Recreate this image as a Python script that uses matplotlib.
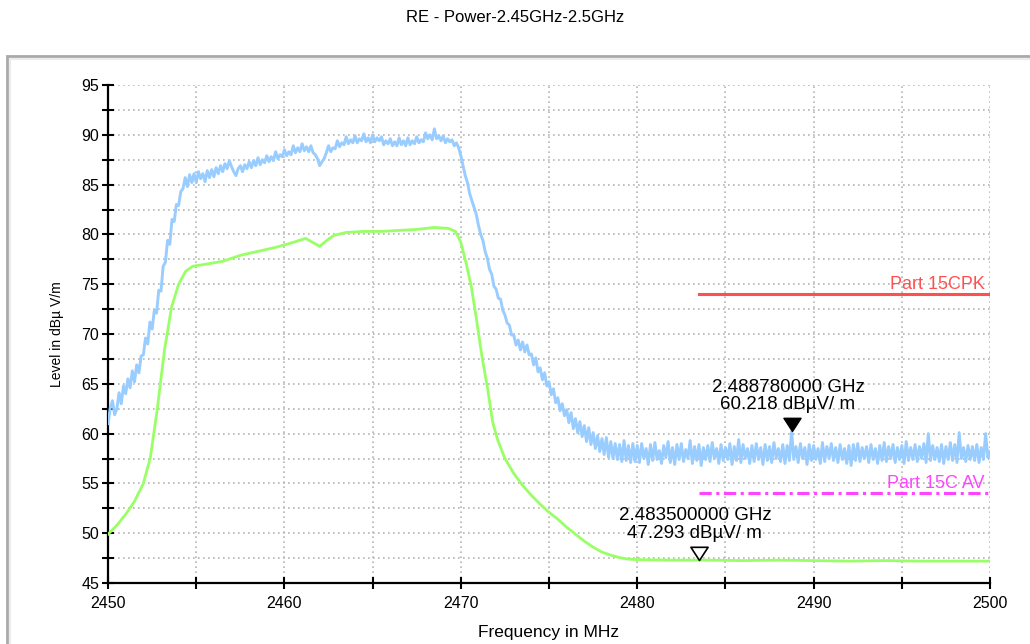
import numpy as np
import matplotlib
matplotlib.use('Agg')
import matplotlib.pyplot as plt
from matplotlib.ticker import MultipleLocator
from matplotlib.patches import Rectangle
from matplotlib.path import Path

plt.rcParams['font.family'] = ['Liberation Sans', 'DejaVu Sans']

# peak trace, one value every 0.125 MHz from 2450 to 2500 MHz (8 per row = 1 MHz)
pk_start = 2450.0
pk_step = 0.125
pk_level = [
    61.0, 62.6, 63.3, 61.9, 62.5, 64.1, 63.0, 64.8,
    64.0, 65.5, 64.6, 66.3, 65.2, 66.9, 66.1, 67.8,
    67.9, 69.6, 69.0, 71.2, 70.5, 72.4, 72.1, 74.4,
    74.3, 76.8, 77.2, 79.4, 79.0, 81.5, 81.3, 83.0,
    82.9, 84.3, 84.6, 85.7, 84.8, 86.0, 85.2, 86.1,
    85.2, 86.3, 85.6, 86.1, 85.3, 86.4, 85.7, 86.5,
    85.8, 86.7, 86.1, 86.9, 86.3, 87.1, 86.6, 87.4,
    86.8, 86.3, 85.9, 86.6, 86.9, 86.3, 87.0, 86.6,
    87.3, 86.7, 87.4, 86.9, 87.7, 87.0, 87.5, 87.2,
    87.9, 87.3, 87.8, 87.4, 88.3, 87.6, 88.0, 87.8,
    88.5, 87.9, 88.3, 88.0, 88.9, 88.2, 88.7, 88.3,
    89.1, 88.4, 88.8, 88.3, 88.9, 88.2, 88.0, 87.6,
    86.9, 87.3, 87.6, 88.2, 88.9, 88.3, 88.7, 88.6,
    89.4, 88.8, 89.2, 89.0, 89.8, 89.1, 89.5, 89.2,
    89.9, 89.2, 89.6, 89.4, 90.1, 89.3, 89.7, 89.2,
    90.0, 89.3, 89.7, 89.4, 89.8, 89.0, 89.4, 89.1,
    89.6, 88.9, 89.3, 88.9, 89.7, 89.0, 89.4, 88.9,
    89.7, 89.0, 89.4, 89.1, 89.8, 89.2, 89.5, 89.3,
    90.2, 89.6, 90.0, 89.5, 90.6, 89.6, 89.9, 89.4,
    89.9, 89.2, 89.6, 89.3, 89.5, 88.9, 89.2, 88.7,
    87.9, 86.9, 85.9, 85.2, 84.1, 83.4, 82.7, 82.0,
    80.9, 80.0, 79.4, 78.3, 77.6, 76.5, 76.0, 74.8,
    74.5, 73.6, 73.5, 72.4, 71.9, 71.1, 70.9, 69.9,
    69.9, 68.9, 69.4, 68.4, 69.2, 68.2, 68.9, 67.9,
    68.0, 66.9, 67.6, 66.2, 66.6, 65.4, 66.1, 64.8,
    65.2, 63.9, 64.5, 63.1, 63.6, 62.3, 63.0, 61.8,
    62.4, 61.1, 62.1, 60.5, 61.5, 60.1, 61.2, 59.7,
    60.8, 59.2, 60.6, 58.9, 60.1, 58.5, 59.8, 58.2,
    59.5, 57.9, 59.6, 57.6, 59.2, 57.5, 59.0, 57.4,
    58.9, 57.2, 59.3, 57.3, 58.8, 57.1, 59.0, 57.2,
    58.8, 57.1, 59.0, 57.5, 58.5, 56.9, 58.9, 57.3,
    59.1, 57.4, 58.3, 57.0, 58.8, 57.6, 59.2, 57.1,
    58.6, 56.9, 58.9, 57.4, 59.0, 57.2, 58.4, 57.5,
    59.3, 57.0, 58.7, 57.3, 58.9, 56.8, 58.6, 57.4,
    58.8, 57.2, 59.1, 57.5, 58.5, 57.0, 58.9, 57.3,
    58.6, 57.4, 59.0, 56.9, 58.7, 57.3, 59.4, 57.1,
    58.9, 57.5, 58.5, 57.0, 58.8, 57.2, 59.0, 57.4,
    58.6, 56.9, 58.9, 57.3, 58.7, 57.1, 59.1, 57.5,
    58.5, 57.2, 58.9, 57.0, 58.8, 57.3, 60.2, 57.4,
    58.7, 57.1, 59.0, 57.5, 58.6, 56.9, 58.9, 57.3,
    58.8, 57.4, 58.5, 57.0, 59.1, 57.2, 58.7, 57.5,
    59.0, 57.3, 58.6, 57.1, 58.9, 57.4, 58.5, 57.0,
    58.8, 56.8, 58.9, 57.3, 59.0, 57.2, 58.6, 57.5,
    58.7, 57.1, 58.9, 57.4, 58.5, 57.0, 58.8, 57.3,
    59.1, 57.2, 58.7, 57.5, 58.9, 57.1, 58.6, 57.4,
    58.8, 57.0, 59.2, 57.3, 58.6, 57.4, 58.9, 57.2,
    58.7, 57.5, 59.0, 57.1, 60.0, 57.3, 58.8, 57.4,
    58.6, 57.2, 58.9, 57.0, 58.7, 57.4, 59.1, 57.3,
    58.9, 57.1, 60.1, 57.5, 58.6, 57.2, 58.8, 57.4,
    58.7, 57.3, 58.9, 57.1, 58.6, 57.4, 60.0, 57.6,
    58.2,
]

# average trace
av_freq = [2450, 2450.5, 2451, 2451.5, 2452, 2452.4, 2452.8, 2453.2, 2453.6,
           2454.0, 2454.4, 2454.8, 2455.5, 2456.5, 2457.5, 2458.5, 2459.5,
           2460.5, 2461.2, 2461.6, 2462.0, 2462.4, 2462.8, 2463.5, 2464.5,
           2465.5, 2466.5, 2467.5, 2468.5, 2469.3, 2469.7, 2470.0, 2470.3,
           2470.6, 2470.9, 2471.2, 2471.5, 2471.8, 2472.1, 2472.5, 2473.0,
           2473.5, 2474.0, 2474.5, 2475.0, 2475.5, 2476.0, 2476.5, 2477.0,
           2477.5, 2478.0, 2478.5, 2479.0, 2479.5, 2480, 2482, 2484, 2486,
           2488, 2490, 2492, 2494, 2496, 2498, 2500]
av_level = [49.9, 50.8, 51.9, 53.2, 55.0, 57.6, 62.6, 68.4, 72.7,
            75.0, 76.3, 76.8, 77.0, 77.3, 77.9, 78.3, 78.7,
            79.2, 79.6, 79.2, 78.8, 79.4, 79.9, 80.2, 80.3,
            80.3, 80.4, 80.5, 80.7, 80.6, 80.3, 79.2, 77.1,
            74.7, 71.3, 67.7, 64.7, 61.2, 59.3, 57.5, 56.0,
            54.8, 53.8, 52.9, 52.1, 51.4, 50.6, 49.9, 49.2,
            48.6, 48.1, 47.8, 47.55, 47.4, 47.35, 47.3, 47.3, 47.25,
            47.3, 47.25, 47.2, 47.25, 47.2, 47.2, 47.2]

# limit lines
limit_start = 2483.5
limit_end = 2500.0
pk_limit = 74.0
av_limit = 54.0

# markers
mk1_freq, mk1_level = 2488.78, 60.218
mk2_freq, mk2_level = 2483.5, 47.293


def main():
    fig = plt.figure(figsize=(10.3, 6.44), dpi=100)
    ax = fig.add_axes([0.1049, 0.0947, 0.8563, 0.7733])

    # panel frame
    fig.add_artist(Rectangle((7 / 1030, -0.2), 1.2, 0.2 + 1 - 56 / 644,
                             transform=fig.transFigure, fill=False,
                             edgecolor='#a9a9a9', lw=2))
    fig.add_artist(Rectangle((9.5 / 1030, -0.2), 1.2, 0.2 + 1 - 58.5 / 644,
                             transform=fig.transFigure, fill=False,
                             edgecolor='#ececec', lw=1.5))
    fig.text(0.5, 1 - 18 / 644, 'RE - Power-2.45GHz-2.5GHz', ha='center',
             va='center', fontsize=12)

    freq = pk_start + pk_step * np.arange(len(pk_level))
    ax.plot(freq, pk_level, color='#99ccff', lw=2.1, zorder=3)
    ax.plot(av_freq, av_level, color='#99ff66', lw=2.0, zorder=4)

    ax.plot([limit_start, limit_end], [pk_limit, pk_limit], color='#ff5050',
            lw=2.2, zorder=5)
    ax.plot([limit_start, limit_end], [av_limit, av_limit], color='#ff44ff',
            lw=2.2, ls=(0, (4, 1.5, 1, 1.5)), zorder=5)
    ax.text(limit_end - 0.3, pk_limit + 0.1, 'Part 15CPK', color='#ff5050',
            ha='right', va='bottom', fontsize=13)
    ax.text(limit_end - 0.3, av_limit + 0.1, 'Part 15C AV', color='#ff44ff',
            ha='right', va='bottom', fontsize=13)

    tri = Path([(-0.65, 1), (0.65, 1), (0, 0), (-0.65, 1)],
               [Path.MOVETO, Path.LINETO, Path.LINETO, Path.CLOSEPOLY])
    ax.plot(mk1_freq, mk1_level, marker=tri, ms=19, color='black',
            mfc='black', zorder=6, clip_on=False)
    ax.plot(mk2_freq, mk2_level, marker=tri, ms=19, color='black',
            mfc='white', mew=1.2, zorder=6, clip_on=False)
    ax.annotate('%.9f GHz\n%.3f dBµV/ m' % (mk1_freq / 1000, mk1_level),
                xy=(mk1_freq, mk1_level), xytext=(-3, 13),
                textcoords='offset points', ha='center', va='bottom',
                fontsize=13.5, linespacing=1.05)
    ax.annotate('%.9f GHz\n%.3f dBµV/ m' % (mk2_freq / 1000, mk2_level),
                xy=(mk2_freq, mk2_level), xytext=(-3, 13),
                textcoords='offset points', ha='center', va='bottom',
                fontsize=13.5, linespacing=1.05)

    ax.set_xlim(2450, 2500)
    ax.set_ylim(45, 95)
    ax.xaxis.set_major_locator(MultipleLocator(10))
    ax.xaxis.set_minor_locator(MultipleLocator(5))
    ax.yaxis.set_major_locator(MultipleLocator(5))
    ax.yaxis.set_minor_locator(MultipleLocator(2.5))
    ax.grid(True, which='both', color='#b5b5b5', ls=(0, (1, 2)), lw=1.2)
    ax.set_axisbelow(True)
    for s in ['top', 'right']:
        ax.spines[s].set_visible(False)
    for s in ['left', 'bottom']:
        ax.spines[s].set_linewidth(1.6)
    ax.tick_params(which='both', direction='inout', length=9, width=1.5)
    ax.tick_params(axis='x', pad=5, labelsize=11.5)
    ax.tick_params(axis='y', pad=2, labelsize=11.5)

    ax.set_xlabel('Frequency in MHz', fontsize=12.5, labelpad=10)
    ax.set_ylabel('Level in dBµ V/m', fontsize=10, labelpad=12)

    fig.savefig('out.png', dpi=100)


if __name__ == '__main__':
    main()
